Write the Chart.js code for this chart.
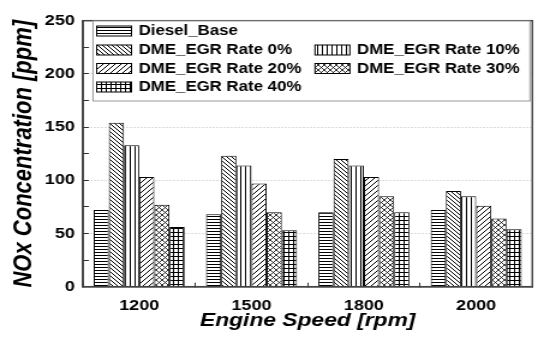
<!DOCTYPE html>
<html>
<head>
<meta charset="utf-8">
<script src="https://cdn.jsdelivr.net/npm/chart.js@4.4.0/dist/chart.umd.min.js"></script>
<style>
    html, body { margin: 0; padding: 0; background: #fff; }
    /* the source image is stretched sideways, so the chart is drawn narrower and scaled */
    #wrap { position: absolute; left: 0; top: 0; width: 453px; height: 342px; transform: scaleX(1.2009); transform-origin: 0 0; }
</style>
</head>
<body>
<div id="wrap"><canvas id="noxChart"></canvas></div>
<script>
    // data
    const speeds = ['1200', '1500', '1800', '2000'];
    const dieselBase = [72, 68, 70, 72];
    const dmeEgr0 = [154, 123, 120, 90];
    const dmeEgr10 = [133, 114, 114, 85];
    const dmeEgr20 = [103, 97, 103, 76];
    const dmeEgr30 = [77, 70, 85, 64];
    const dmeEgr40 = [56, 53, 70, 54];
    const seriesNames = ['Diesel_Base', 'DME_EGR Rate 0%', 'DME_EGR Rate 10%', 'DME_EGR Rate 20%', 'DME_EGR Rate 30%', 'DME_EGR Rate 40%'];
    const yLabels = [0, 50, 100, 150, 200, 250];

    const FONT = '"Liberation Sans", Arial, sans-serif';

    // hatch patterns (black on white)
    function makePattern(kind) {
        const sizes = { hline: [4, 3], back: [4, 4], vline: [4, 4], fwd: [5, 5], cross: [5, 5], grid: [4, 4] };
        const w = sizes[kind][0], h = sizes[kind][1];
        const c = document.createElement('canvas');
        c.width = w;
        c.height = h;
        const g = c.getContext('2d');
        g.fillStyle = '#fff';
        g.fillRect(0, 0, w, h);
        g.strokeStyle = '#000';
        g.lineWidth = kind === 'cross' ? 0.8 : 1;
        g.beginPath();
        if (kind === 'hline' || kind === 'grid') {
            g.moveTo(0, 0.5); g.lineTo(w, 0.5);
        }
        if (kind === 'vline' || kind === 'grid') {
            g.moveTo(0.5, 0); g.lineTo(0.5, h);
        }
        if (kind === 'back' || kind === 'cross') {
            g.moveTo(0, 0); g.lineTo(w, h);
            g.moveTo(-1, h - 1); g.lineTo(1, h + 1);
            g.moveTo(w - 1, -1); g.lineTo(w + 1, 1);
        }
        if (kind === 'fwd' || kind === 'cross') {
            g.moveTo(0, h); g.lineTo(w, 0);
            g.moveTo(-1, 1); g.lineTo(1, -1);
            g.moveTo(w - 1, h + 1); g.lineTo(w + 1, h - 1);
        }
        g.stroke();
        return g.createPattern(c, 'repeat');
    }

    const patterns = ['hline', 'back', 'vline', 'fwd', 'cross', 'grid'].map(makePattern);
    const seriesValues = [dieselBase, dmeEgr0, dmeEgr10, dmeEgr20, dmeEgr30, dmeEgr40];

    // frame round the plot area
    const framePlugin = {
        id: 'frame',
        afterDatasetsDraw(chart) {
            const a = chart.chartArea;
            const ctx = chart.ctx;
            ctx.save();
            ctx.strokeStyle = '#444';
            ctx.lineWidth = 1.5;
            ctx.strokeRect(a.left, a.top, a.right - a.left, a.bottom - a.top);
            ctx.restore();
        }
    };

    // legend inside the plot, two columns like the original
    const boxLegendPlugin = {
        id: 'boxLegend',
        afterDraw(chart) {
            const ctx = chart.ctx;
            const box = { left: 77.4, top: 21, right: 441.3, bottom: 101 };
            const rows = [[0, null], [1, 2], [3, 4], [5, null]];
            const rowY = [31, 50, 68.5, 87];
            const colX = [80.5, 262.3];
            ctx.save();
            ctx.fillStyle = '#fff';
            ctx.fillRect(box.left, box.top, box.right - box.left, box.bottom - box.top);
            ctx.strokeStyle = '#999';
            ctx.lineWidth = 1;
            ctx.strokeRect(box.left, box.top, box.right - box.left, box.bottom - box.top);
            ctx.font = 'bold 14px ' + FONT;
            ctx.textBaseline = 'middle';
            ctx.textAlign = 'left';
            rows.forEach((row, r) => {
                row.forEach((idx, col) => {
                    if (idx === null) return;
                    const ds = chart.data.datasets[idx];
                    const x = colX[col];
                    const y = rowY[r];
                    ctx.fillStyle = ds.backgroundColor;
                    ctx.fillRect(x, y - 5, 29, 10);
                    ctx.strokeStyle = '#000';
                    ctx.strokeRect(x, y - 5, 29, 10);
                    ctx.fillStyle = '#000';
                    ctx.fillText(ds.label, x + 35, y + 0.5);
                });
            });
            ctx.restore();
        }
    };

    const ctx = document.getElementById('noxChart').getContext('2d');
    const noxChart = new Chart(ctx, {
        type: 'bar',
        data: {
            labels: speeds,
            datasets: seriesValues.map((vals, i) => ({
                label: seriesNames[i],
                data: vals,
                backgroundColor: patterns[i],
                borderColor: '#000',
                borderWidth: 1,
                categoryPercentage: 0.81,
                barPercentage: 1.0
            }))
        },
        options: {
            responsive: true,
            maintainAspectRatio: false,
            animation: false,
            layout: {
                padding: { top: 14, right: 9.7, left: 0, bottom: 0 }
            },
            scales: {
                x: {
                    grid: {
                        drawOnChartArea: false,
                        offset: true,
                        tickLength: -4,
                        tickColor: '#333'
                    },
                    border: { display: true, color: '#444', width: 1.5 },
                    ticks: {
                        color: '#000',
                        padding: 14,
                        font: { family: FONT, size: 15, weight: 'bold' }
                    },
                    title: {
                        display: true,
                        text: 'Engine Speed [rpm]',
                        color: '#000',
                        font: { family: FONT, size: 19, weight: 'bold', style: 'italic' },
                        padding: { top: 0, bottom: 10 }
                    },
                    afterFit(scale) {
                        scale.height = 55.3;
                    }
                },
                y: {
                    min: 0,
                    max: 250,
                    grid: {
                        color: (c) => (c.tick && yLabels.includes(c.tick.value) ? '#bbb' : 'rgba(0,0,0,0)'),
                        tickLength: -5,
                        tickColor: '#333'
                    },
                    border: { display: true, color: '#444', width: 1.5, dash: [1, 2] },
                    ticks: {
                        stepSize: 25,
                        color: '#000',
                        padding: 11.7,
                        font: { family: FONT, size: 15, weight: 'bold' },
                        callback: (v) => (yLabels.includes(v) ? v : '')
                    },
                    title: {
                        display: true,
                        text: 'NOx Concentration [ppm]',
                        color: '#000',
                        font: { family: FONT, size: 22, weight: 'bold', style: 'italic' },
                        padding: { top: 7, bottom: 0 }
                    },
                    afterFit(scale) {
                        scale.width = 69.1;
                    }
                }
            },
            plugins: {
                legend: { display: false },
                tooltip: { enabled: false }
            }
        },
        plugins: [framePlugin, boxLegendPlugin]
    });
</script>
</body>
</html>
